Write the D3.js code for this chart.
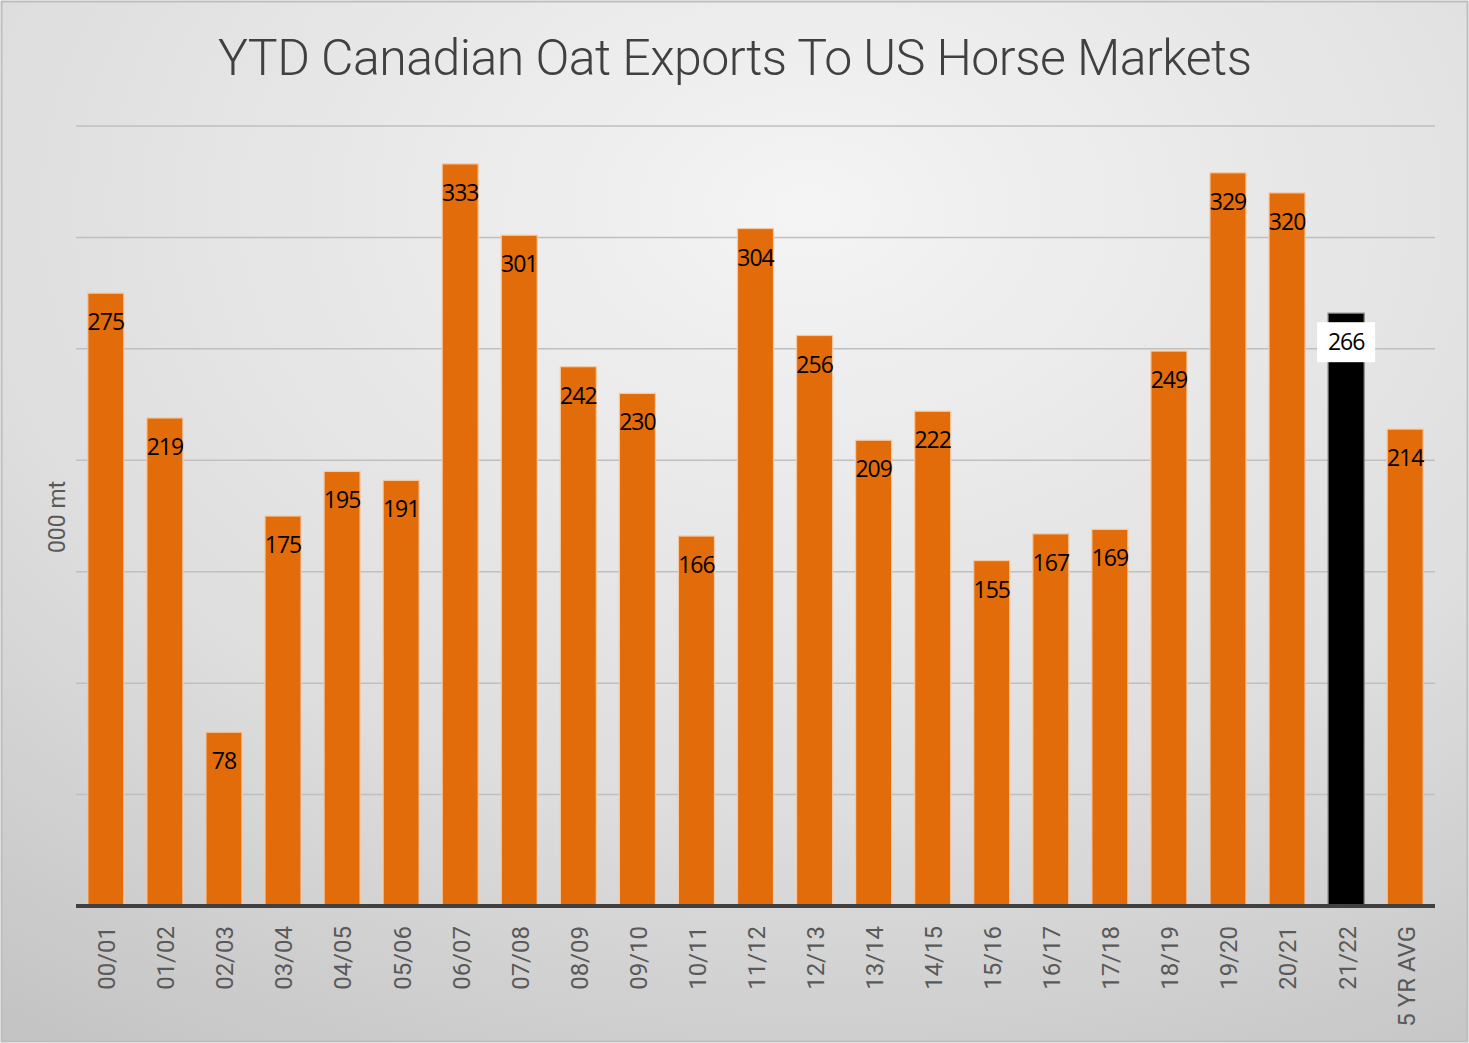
<!DOCTYPE html>
<html>
<head>
<meta charset="utf-8">
<script src="https://cdn.jsdelivr.net/npm/d3@7"></script>
<style>
  body { margin: 0; background: #fff; }
  svg { display: block; }
</style>
</head>
<body>
<div id="chart"></div>
<script>
// season labels and YTD exports (000 mt)
const seasons = ["00/01","01/02","02/03","03/04","04/05","05/06","06/07","07/08","08/09","09/10",
  "10/11","11/12","12/13","13/14","14/15","15/16","16/17","17/18","18/19","19/20","20/21","21/22","5 YR AVG"];
const exports = [275,219,78,175,195,191,333,301,242,230,166,304,256,209,222,155,167,169,249,329,320,266,214];
const highlight = "21/22";
const yTicks = [0,50,100,150,200,250,300,350];

const width = 1469, height = 1043;
const margin = {top: 126, right: 34, bottom: 137, left: 76};

const svg = d3.select("#chart").append("svg")
  .attr("width", width)
  .attr("height", height);

// background gradient
const defs = svg.append("defs");
const grad = defs.append("radialGradient")
  .attr("id", "bg")
  .attr("cx", "55%").attr("cy", "20%").attr("r", "95%");
grad.append("stop").attr("offset", "0%").attr("stop-color", "#f4f4f4");
grad.append("stop").attr("offset", "60%").attr("stop-color", "#dedede");
grad.append("stop").attr("offset", "100%").attr("stop-color", "#c4c4c4");

svg.append("rect")
  .attr("x", 1.5).attr("y", 1.5)
  .attr("width", width - 3).attr("height", height - 3)
  .attr("fill", "url(#bg)")
  .attr("stroke", "#bdbdbd")
  .attr("stroke-width", 2);

const x = d3.scaleBand()
  .domain(seasons)
  .range([margin.left, width - margin.right])
  .paddingInner(0.39)
  .paddingOuter(0.2);

const y = d3.scaleLinear()
  .domain([0, 350])
  .range([height - margin.bottom, margin.top]);

// gridlines
svg.append("g")
  .selectAll("line")
  .data(yTicks.slice(1))
  .join("line")
  .attr("x1", margin.left)
  .attr("x2", width - margin.right)
  .attr("y1", d => y(d))
  .attr("y2", d => y(d))
  .attr("stroke", "#bfbfbf")
  .attr("stroke-width", 1.5);

// title
svg.append("text")
  .attr("x", 735)
  .attr("y", 75)
  .attr("text-anchor", "middle")
  .attr("font-family", "Roboto, 'Liberation Sans', sans-serif")
  .attr("font-weight", 300)
  .attr("font-size", 50)
  .attr("fill", "#404040")
  .attr("textLength", 1034)
  .text("YTD Canadian Oat Exports To US Horse Markets");

// y axis title
svg.append("text")
  .attr("transform", `translate(65,${517}) rotate(-90)`)
  .attr("text-anchor", "middle")
  .attr("font-family", "Roboto, 'Liberation Sans', sans-serif")
  .attr("font-size", 23)
  .attr("fill", "#595959")
  .text("000 mt");

// bars
svg.append("g")
  .selectAll("rect")
  .data(seasons)
  .join("rect")
  .attr("x", d => x(d))
  .attr("width", x.bandwidth())
  .attr("y", (d, i) => y(exports[i]))
  .attr("height", (d, i) => y(0) - y(exports[i]))
  .attr("fill", d => d === highlight ? "#000000" : "#e36c0a")
  .attr("stroke", d => d === highlight ? "#7f7f7f" : "#f6c9a4")
  .attr("stroke-width", 1.2);

// value labels
const labels = svg.append("g")
  .selectAll("g")
  .data(seasons)
  .join("g")
  .attr("transform", (d, i) => `translate(${x(d) + x.bandwidth() / 2},${y(exports[i]) + 29})`);

labels.filter(d => d === highlight)
  .append("rect")
  .attr("x", -29).attr("y", -20)
  .attr("width", 58).attr("height", 40)
  .attr("fill", "#ffffff");

labels.append("text")
  .attr("text-anchor", "middle")
  .attr("dy", "0.35em")
  .attr("font-family", "'Open Sans', sans-serif")
  .attr("font-size", 23)
  .attr("letter-spacing", -1)
  .attr("fill", "#000")
  .text((d, i) => exports[i]);

// x axis
const xAxis = svg.append("g")
  .attr("transform", `translate(0,${y(0)})`);

xAxis.append("line")
  .attr("x1", margin.left)
  .attr("x2", width - margin.right)
  .attr("stroke", "#404040")
  .attr("stroke-width", 4);

xAxis.selectAll("text")
  .data(seasons)
  .join("text")
  .attr("transform", d => `translate(${x(d) + x.bandwidth() / 2 + 1},20) rotate(-90)`)
  .attr("text-anchor", "end")
  .attr("dy", "0.35em")
  .attr("font-family", "Roboto, 'Liberation Sans', sans-serif")
  .attr("font-size", 24)
  .attr("fill", "#595959")
  .text(d => d);
</script>
</body>
</html>
